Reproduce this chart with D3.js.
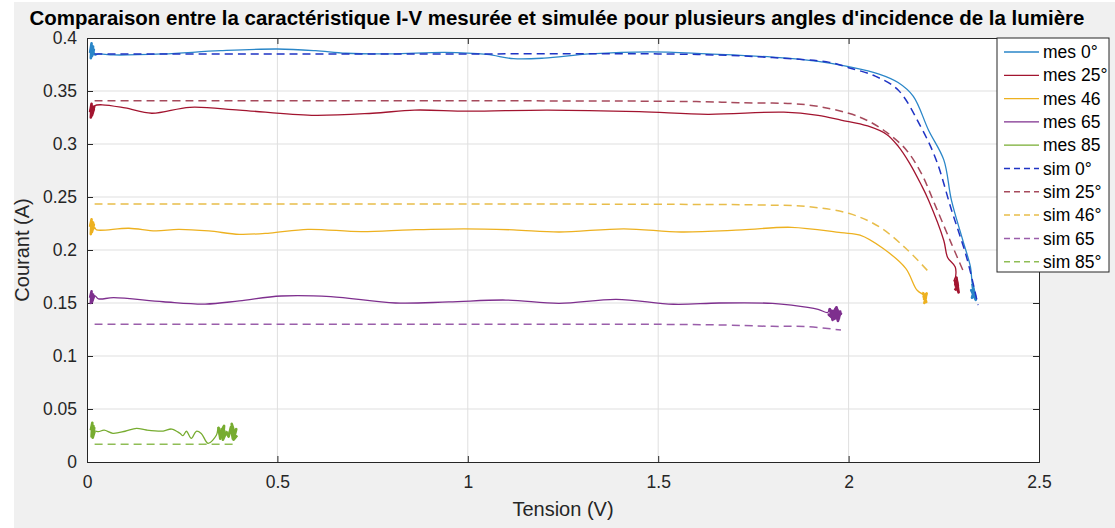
<!DOCTYPE html>
<html>
<head>
<meta charset="utf-8">
<script src="https://cdn.jsdelivr.net/npm/d3@7"></script>
<style>
  body { margin: 0; background: #fff; }
  svg { display: block; font-family: "Liberation Sans", Arial, sans-serif; }
</style>
</head>
<body>
<svg width="1115" height="528"></svg>
<script>
// Measured and simulated I-V curves, [tension (V), courant (A)]
const mes0 = [
  [0.008,0.386],[0.012,0.395],[0.010,0.381],[0.016,0.392],[0.013,0.383],[0.018,0.389],[0.011,0.390],[0.020,0.384],
  [0.03,0.385],[0.07,0.384],[0.2,0.385],[0.35,0.388],[0.5,0.3896],[0.6,0.388],[0.68,0.3856],[0.8,0.385],[0.94,0.3865],
  [1.05,0.3845],[1.12,0.3805],[1.2,0.381],[1.32,0.385],[1.48,0.387],[1.63,0.385],[1.8,0.382],[1.92,0.378],[2.0,0.373],
  [2.08,0.366],[2.13,0.358],[2.17,0.345],[2.21,0.313],[2.25,0.285],[2.27,0.247],[2.30,0.209],[2.32,0.184],[2.324,0.170],
  [2.325,0.168],[2.330,0.156],[2.322,0.162],[2.334,0.153],[2.327,0.165],[2.331,0.158],[2.324,0.155],[2.329,0.161]
];
const mes25 = [
  [0.008,0.330],[0.012,0.338],[0.010,0.325],[0.016,0.335],[0.013,0.327],[0.018,0.333],[0.011,0.329],[0.020,0.336],
  [0.04,0.337],[0.1,0.334],[0.17,0.329],[0.27,0.3346],[0.4,0.332],[0.59,0.327],[0.75,0.329],[0.86,0.332],[1.0,0.331],
  [1.21,0.332],[1.45,0.3305],[1.63,0.328],[1.83,0.330],[1.92,0.327],[1.98,0.3226],[2.05,0.317],[2.1,0.309],[2.13,0.298],
  [2.16,0.282],[2.19,0.262],[2.21,0.247],[2.25,0.209],[2.26,0.193],[2.28,0.184],[2.281,0.175],
  [2.278,0.172],[2.286,0.163],[2.280,0.168],[2.289,0.160],[2.283,0.174],[2.287,0.166],[2.279,0.162]
];
const mes46 = [
  [0.008,0.222],[0.012,0.229],[0.010,0.215],[0.016,0.226],[0.013,0.217],[0.018,0.224],[0.011,0.219],[0.020,0.221],
  [0.025,0.219],[0.11,0.2205],[0.18,0.218],[0.24,0.2195],[0.32,0.218],[0.40,0.2148],[0.48,0.216],[0.58,0.2195],
  [0.72,0.2173],[0.85,0.219],[0.99,0.22],[1.12,0.219],[1.24,0.217],[1.41,0.220],[1.56,0.217],[1.72,0.219],[1.85,0.2214],
  [1.98,0.2163],[2.03,0.214],[2.09,0.2016],[2.15,0.1827],[2.18,0.162],[2.198,0.158],
  [2.195,0.160],[2.204,0.151],[2.197,0.156],[2.205,0.159],[2.199,0.150],[2.203,0.155],[2.196,0.153]
];
const mes65 = [
  [0.008,0.155],[0.012,0.161],[0.010,0.150],[0.016,0.158],[0.013,0.151],[0.018,0.156],[0.011,0.153],[0.020,0.157],
  [0.03,0.154],[0.07,0.155],[0.2,0.1512],[0.31,0.149],[0.4,0.152],[0.51,0.1566],[0.64,0.156],[0.81,0.150],[0.95,0.151],
  [1.10,0.1528],[1.24,0.1497],[1.39,0.1535],[1.54,0.1488],[1.66,0.150],[1.80,0.1497],[1.85,0.148],[1.92,0.144],[1.945,0.141],
  [1.950,0.145],[1.958,0.134],[1.965,0.143],[1.972,0.133],[1.978,0.142],[1.955,0.137],[1.968,0.146],[1.975,0.136],
  [1.948,0.139],[1.962,0.135],[1.980,0.140],[1.952,0.143],[1.970,0.138]
];
const mes85 = [
  [0.010,0.030],[0.014,0.037],[0.012,0.024],[0.017,0.034],[0.013,0.026],[0.019,0.032],[0.015,0.023],[0.020,0.029],
  [0.03,0.0286],[0.045,0.030],[0.068,0.0271],[0.10,0.029],[0.13,0.0318],[0.156,0.0302],[0.2,0.0292],[0.222,0.0311],
  [0.244,0.0271],[0.252,0.0248],[0.261,0.029],[0.274,0.0223],[0.287,0.029],[0.30,0.027],[0.318,0.0176],[0.34,0.0255],
  [0.345,0.033],[0.350,0.022],[0.355,0.031],[0.348,0.026],[0.360,0.034],[0.357,0.021],[0.366,0.028],
  [0.372,0.024],[0.378,0.033],[0.383,0.022],[0.380,0.036],[0.388,0.027],[0.392,0.031],[0.385,0.021],[0.394,0.025]
];
const sim0 = [[0.02,0.385],[0.5,0.385],[1.0,0.385],[1.5,0.385],[1.65,0.384],[1.8,0.3815],[1.95,0.377],[2.0,0.372],
  [2.07,0.364],[2.13,0.351],[2.19,0.316],[2.23,0.285],[2.27,0.238],[2.31,0.193],[2.34,0.148]];
const sim25 = [[0.02,0.3408],[1.0,0.3408],[1.6,0.340],[1.71,0.339],[1.89,0.337],[2.0,0.329],[2.05,0.322],[2.1,0.311],
  [2.15,0.295],[2.19,0.273],[2.23,0.24],[2.27,0.206],[2.30,0.181]];
const sim46 = [[0.02,0.2434],[1.0,0.2434],[1.6,0.243],[1.76,0.2425],[1.89,0.241],[2.0,0.2346],[2.08,0.222],[2.15,0.2016],[2.21,0.1795]];
const sim65 = [[0.02,0.130],[1.0,0.130],[1.63,0.1295],[1.8,0.128],[1.89,0.1277],[1.98,0.1245]];
const sim85 = [[0.02,0.0167],[0.395,0.0167]];

// number of noisy points at the start / end of each measured series
const blobStart = [8, 8, 8, 8, 8];
const blobEnd = [8, 7, 7, 13, 15];

const seriesNames = ["mes 0°", "mes 25°", "mes 46", "mes 65", "mes 85", "sim 0°", "sim 25°", "sim 46°", "sim 65", "sim 85°"];
const seriesData = [mes0, mes25, mes46, mes65, mes85, sim0, sim25, sim46, sim65, sim85];
const seriesColors = ["#2a86c8", "#a2142f", "#edb120", "#7e2f8e", "#77ac30", "#1f33c4", "#a64a5c", "#e8bd4a", "#9a5eaa", "#8fbd55"];
const xTicks = [0, 0.5, 1, 1.5, 2, 2.5];
const yTicks = [0, 0.05, 0.1, 0.15, 0.2, 0.25, 0.3, 0.35, 0.4];
const titleText = "Comparaison entre la caractéristique I-V mesurée et simulée pour plusieurs angles d'incidence de la lumière";

const margin = {top: 38, right: 76, bottom: 66, left: 87};
const W = 1115, H = 528;
const width = W - margin.left - margin.right;
const height = H - margin.top - margin.bottom;

const svg = d3.select('svg');
svg.append('rect').attr('x', 14).attr('y', 2).attr('width', W - 14).attr('height', H - 2).attr('fill', '#f0f0f0');

const x = d3.scaleLinear().domain([0, 2.5]).range([0, width]);
const y = d3.scaleLinear().domain([0, 0.4]).range([height, 0]);

const chart = svg.append('g').attr('transform', 'translate(' + margin.left + ',' + margin.top + ')');
chart.append('rect').attr('width', width).attr('height', height).attr('fill', '#fff');

// grid
chart.append('g').selectAll('line').data(xTicks.slice(1, -1)).enter().append('line')
  .attr('x1', d => x(d)).attr('x2', d => x(d)).attr('y1', 0).attr('y2', height)
  .attr('stroke', '#dfdfdf').attr('stroke-width', 1);
chart.append('g').selectAll('line').data(yTicks.slice(1, -1)).enter().append('line')
  .attr('y1', d => y(d)).attr('y2', d => y(d)).attr('x1', 0).attr('x2', width)
  .attr('stroke', '#dfdfdf').attr('stroke-width', 1);

// axes (ticks inside, box on)
const tickFmt = d => String(d);
const xAxis = d3.axisBottom(x).tickValues(xTicks).tickSize(-6).tickPadding(14).tickFormat(tickFmt);
const yAxis = d3.axisLeft(y).tickValues(yTicks).tickSize(-6).tickPadding(10).tickFormat(tickFmt);
const gx = chart.append('g').attr('transform', 'translate(0,' + height + ')').call(xAxis);
const gy = chart.append('g').call(yAxis);
chart.append('g').call(d3.axisTop(x).tickValues(xTicks).tickSize(-6).tickFormat(''));
chart.append('g').attr('transform', 'translate(' + width + ',0)').call(d3.axisRight(y).tickValues(yTicks).tickSize(-6).tickFormat(''));
chart.selectAll('.domain, .tick line').attr('stroke', '#262626');
[gx, gy].forEach(g => g.selectAll('text').attr('fill', '#262626').style('font-size', '17.5px'));
gx.selectAll('text').attr('dy', '0.71em');

// curves
const line = d3.line().x(d => x(d[0])).y(d => y(d[1])).curve(d3.curveCatmullRom.alpha(0.5));
const clip = chart.append('clipPath').attr('id', 'clip').append('rect').attr('width', width).attr('height', height);
const plot = chart.append('g').attr('clip-path', 'url(#clip)');
seriesData.forEach((s, i) => {
  const dashed = i >= 5;
  plot.append('path').datum(s)
    .attr('fill', 'none')
    .attr('stroke', seriesColors[i])
    .attr('stroke-width', dashed ? 1.5 : 1.3)
    .attr('stroke-dasharray', dashed ? '8,5' : null)
    .attr('stroke-linejoin', 'round')
    .attr('d', line);
  if (!dashed) {
    // noisy clusters of repeated measurements, drawn heavier
    const blobLine = d3.line().x(d => x(d[0])).y(d => y(d[1]));
    [s.slice(0, blobStart[i]), s.slice(s.length - blobEnd[i])].forEach(b => {
      plot.append('path').datum(b)
        .attr('fill', seriesColors[i]).attr('fill-opacity', 0.6)
        .attr('stroke', seriesColors[i]).attr('stroke-width', 2.6)
        .attr('stroke-linejoin', 'round')
        .attr('d', blobLine);
    });
  }
});

// axis labels
chart.append('text').text('Tension (V)')
  .attr('x', width / 2).attr('y', height + 54).attr('text-anchor', 'middle')
  .attr('fill', '#262626').style('font-size', '20px');
chart.append('text').text('Courant (A)')
  .attr('transform', 'translate(' + (-58) + ',' + (height / 2) + ') rotate(-90)')
  .attr('text-anchor', 'middle').attr('fill', '#262626').style('font-size', '20px');

// title, sized to span the figure
const title = svg.append('text').text(titleText)
  .attr('x', 557).attr('y', 25).attr('text-anchor', 'middle')
  .style('font-weight', 'bold').style('font-size', '19px').attr('fill', '#000');
const tw = title.node().getComputedTextLength();
title.style('font-size', (19 * 1055 / tw) + 'px');

// legend
const legend = svg.append('g').attr('transform', 'translate(997,38)');
legend.append('rect').attr('width', 112).attr('height', 234).attr('fill', '#fff').attr('stroke', '#262626').attr('stroke-width', 1);
seriesNames.forEach((name, i) => {
  const ly = 14 + i * 23.3;
  legend.append('line').attr('x1', 7).attr('x2', 42).attr('y1', ly).attr('y2', ly)
    .attr('stroke', seriesColors[i]).attr('stroke-width', i >= 5 ? 1.5 : 1.3)
    .attr('stroke-dasharray', i >= 5 ? '6,4' : null);
  legend.append('text').text(name).attr('x', 46).attr('y', ly).attr('dy', '0.35em')
    .attr('fill', '#000').style('font-size', '17.5px');
});
</script>
</body>
</html>
